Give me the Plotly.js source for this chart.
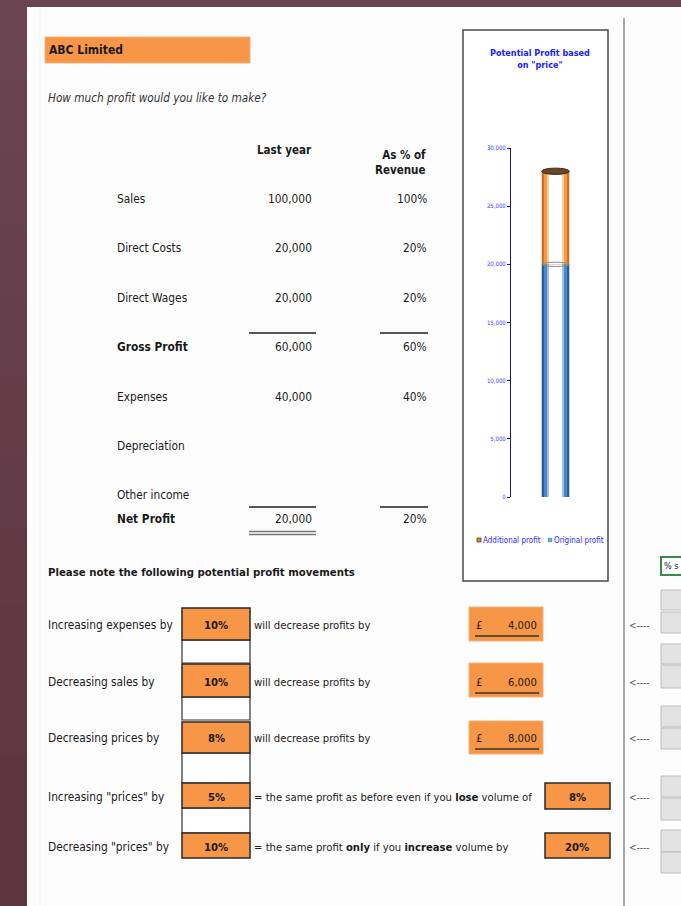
<!DOCTYPE html>
<html>
<head>
<meta charset="utf-8">
<script src="https://cdn.plot.ly/plotly-3.0.1.min.js"></script>
<style>html,body{margin:0;padding:0;background:#633d49;}#chart{width:681px;height:906px;}</style>
</head>
<body>
<div id="chart"></div>
<script>
// ---------------- DATA ----------------
const companyName = 'ABC Limited';
const question = 'How much profit would you like to make?';
const tableHeaders = ['Last year', 'As % of<br>Revenue'];
const tableLabels = ['Sales', 'Direct Costs', 'Direct Wages', 'Gross Profit', 'Expenses', 'Depreciation', 'Other income', 'Net Profit'];
const lastYear = [100000, 20000, 20000, 60000, 40000, null, null, 20000];
const pctRevenue = [1.00, 0.20, 0.20, 0.60, 0.40, null, null, 0.20];
const totalRows = ['Gross Profit', 'Net Profit'];

const movementsTitle = 'Please note the following potential profit movements';
const moveLabels = ['Increasing expenses by', 'Decreasing sales by', 'Decreasing prices by', 'Increasing "prices" by', 'Decreasing "prices" by'];
const movePct = [0.10, 0.10, 0.08, 0.05, 0.10];
const moveText = ['will decrease profits by', 'will decrease profits by', 'will decrease profits by',
  '= the same profit as before even if you <b>lose</b> volume of',
  '= the same profit <b>only</b> if you <b>increase</b> volume by'];
const profitDecrease = [4000, 6000, 8000];
const volumeChange = [0.08, 0.20];

const chartTitle = 'Potential Profit based<br>on "price"';
const chartSeries = ['Additional profit', 'Original profit'];
const chartValues = [8000, 20000];
const yTicks = [0, 5000, 10000, 15000, 20000, 25000, 30000];

// ---------------- LAYOUT HELPERS ----------------
const W = 681, H = 906;
const X = v => v / W, Y = v => 1 - v / H;
const FONT = '"DejaVu Sans Condensed", "Liberation Sans Narrow", "Arial Narrow", sans-serif';
const ORANGE = '#f79646';
const TS = 11.8;   // table text size
const MS = 11.2;   // movements text size
const shapes = [];
const annotations = [];

function rect(x0, y0, x1, y1, fill, line, lw, layer) {
  shapes.push({type: 'rect', xref: 'paper', yref: 'paper', x0: X(x0), x1: X(x1), y0: Y(y1), y1: Y(y0),
    fillcolor: fill, line: {color: line || 'rgba(0,0,0,0)', width: lw === undefined ? (line ? 1 : 0) : lw}, layer: layer || 'below'});
}
function hline(x0, x1, y, color, w) {
  shapes.push({type: 'line', xref: 'paper', yref: 'paper', x0: X(x0), x1: X(x1), y0: Y(y), y1: Y(y),
    line: {color: color, width: w}, layer: 'above'});
}
function vline(x, y0, y1, color, w) {
  shapes.push({type: 'line', xref: 'paper', yref: 'paper', x0: X(x), x1: X(x), y0: Y(y0), y1: Y(y1),
    line: {color: color, width: w}, layer: 'above'});
}
function txt(x, y, text, o) {
  o = o || {};
  annotations.push({xref: 'paper', yref: 'paper', x: X(x), y: Y(y), text: text, showarrow: false,
    xanchor: o.anchor || 'left', yanchor: 'middle', align: o.align || (o.anchor || 'left'),
    font: {family: o.family || FONT, size: o.size || TS, color: o.color || '#1a1a1a'}, borderpad: 0});
}
const fmt = v => v.toLocaleString('en-US');
const pct = v => Math.round(v * 100) + '%';

// ---------------- PAGE BACKGROUND ----------------
const bandTop = [106, 68, 81], bandBot = [92, 53, 64];
for (let i = 0; i < 12; i++) {
  const t = i / 11;
  const c = bandTop.map((a, k) => Math.round(a + (bandBot[k] - a) * t));
  rect(0, i * H / 12, W, (i + 1) * H / 12 + 1, 'rgb(' + c.join(',') + ')', null, 0);
}
rect(27, 7, W + 2, H + 2, '#fdfdfd', null, 0);
vline(40, 7, H, '#f1f1f1', 1);

// ---------------- HEADER ----------------
rect(45, 37, 250, 63, ORANGE, '#f3b07a', 1);
txt(48, 50, '<b>' + companyName + '</b>', {size: 12});
txt(47, 98, '<i>' + question + '</i>', {size: 11.7, color: '#333'});

// ---------------- P&L TABLE ----------------
const rowY = [199, 248, 298, 347, 397, 446, 495, 519];
txt(313, 150, '<b>' + tableHeaders[0] + '</b>', {anchor: 'right', size: 11.5});
txt(427, 162, '<b>' + tableHeaders[1] + '</b>', {anchor: 'right', size: 11.5});
tableLabels.forEach((lab, i) => {
  const b = totalRows.includes(lab);
  txt(116, rowY[i], b ? '<b>' + lab + '</b>' : lab);
  if (lastYear[i] !== null) txt(313, rowY[i], fmt(lastYear[i]), {anchor: 'right'});
  if (pctRevenue[i] !== null) txt(428, rowY[i], pct(pctRevenue[i]), {anchor: 'right'});
});
hline(249, 316, 333, '#555', 2);
hline(380, 428, 333, '#555', 2);
hline(249, 316, 507, '#555', 2);
hline(380, 428, 507, '#555', 2);
hline(249, 316, 531.5, '#777', 1.5);
hline(249, 316, 534.5, '#777', 1.5);

// ---------------- MOVEMENTS ----------------
txt(47, 572, '<b>' + movementsTitle + '</b>', {size: 11.3});
const moveY = [625, 682, 738, 797, 847];
const inBox = [[608, 640], [664, 697], [722, 753], [783, 808], [833, 858]];
const whiteBox = [[640, 663], [697, 720], [753, 783], [808, 833]];
whiteBox.forEach(b => rect(182, b[0], 250, b[1], '#ffffff', '#333', 1.2));
inBox.forEach(b => rect(182, b[0], 250, b[1], ORANGE, '#2a2a2a', 1.5));
moveLabels.forEach((lab, i) => {
  txt(47, moveY[i], lab, {size: 11.8});
  txt(216, moveY[i], '<b>' + pct(movePct[i]) + '</b>', {anchor: 'center', size: MS});
  txt(253, moveY[i], moveText[i], {size: MS});
});
const resBox = [[607, 641], [663, 697], [721, 754]];
profitDecrease.forEach((v, i) => {
  const b = resBox[i];
  rect(469, b[0], 543, b[1], ORANGE, '#f7b27a', 1);
  txt(475, moveY[i], '£', {size: MS});
  txt(538, moveY[i], fmt(v), {anchor: 'right', size: MS});
  hline(475, 539, moveY[i] + 11, '#333', 1.3);
});
const volBox = [[783, 809], [833, 858]];
volumeChange.forEach((v, i) => {
  const b = volBox[i];
  rect(545, b[0], 610, b[1], ORANGE, '#2a2a2a', 1.5);
  txt(577, moveY[3 + i], '<b>' + pct(v) + '</b>', {anchor: 'center', size: MS});
});

// ---------------- RIGHT SIDE ----------------
vline(624, 18, H, '#8a8a8a', 1.5);
moveY.forEach(y => txt(628, y, '&lt;----', {size: 10, color: '#555'}));
rect(661, 557, 692, 575, '#ffffff', '#3a8a4a', 2);
txt(663, 566, '% s', {size: 9, color: '#222'});
[[590, 610], [612, 633], [644, 664], [665, 688], [706, 727], [728, 749], [776, 797], [798, 820], [830, 852], [852, 873]]
  .forEach(b => rect(661, b[0], 692, b[1], '#e3e3e3', '#bdbdbd', 1));

// ---------------- CHART BOX ----------------
rect(463, 30, 608, 581, '#ffffff', '#4a4a4a', 1.5);
txt(540, 59, '<b>' + chartTitle + '</b>', {anchor: 'center', align: 'center', size: 9, color: '#2020ff'});

const original = chartValues[1], additional = chartValues[0];
const bluePal = [['#2c5a94', 0.31], ['#4f87c6', 0.26], ['#9cc3ea', 0.19], ['#ffffff', 0.145]];
const orangePal = [['#c9711f', 0.31], ['#f29a45', 0.26], ['#fbcf9f', 0.19], ['#ffffff', 0.145]];
const traces = [];
function cylinder(value, base, pal, name) {
  pal.forEach((p, k) => traces.push({type: 'bar', x: [0], y: [value], base: [base], width: p[1],
    marker: {color: p[0], line: {width: 0}}, name: name, showlegend: false, hoverinfo: k === 0 ? 'y+name' : 'skip'}));
}
cylinder(original, 0, bluePal, chartSeries[1]);
cylinder(additional, original, orangePal, chartSeries[0]);
const total = original + additional;
shapes.push({type: 'circle', xref: 'x', yref: 'y', x0: -0.155, x1: 0.155, y0: original - 180, y1: original + 180,
  fillcolor: 'rgba(0,0,0,0)', line: {color: '#8c8c8c', width: 1}, layer: 'above'});
shapes.push({type: 'circle', xref: 'x', yref: 'y', x0: -0.155, x1: 0.155, y0: total - 270, y1: total + 270,
  fillcolor: '#6a4522', line: {color: '#3a2815', width: 1}, layer: 'above'});

// legend
rect(477, 538, 481, 542, '#e08a30', '#5a3a1a', 0.8, 'above');
txt(482, 540, chartSeries[0], {size: 8, color: '#2a2aff'});
rect(548, 538, 552, 542, '#6fa0d6', '#6fa0d6', 0.5, 'above');
txt(553, 540, chartSeries[1], {size: 8, color: '#2a2aff'});

const layout = {
  width: W, height: H, margin: {l: 0, r: 0, t: 0, b: 0},
  paper_bgcolor: '#633d49', plot_bgcolor: 'rgba(0,0,0,0)',
  barmode: 'overlay', showlegend: false,
  xaxis: {domain: [X(511), X(600)], range: [-0.5, 0.5], visible: false, fixedrange: true},
  yaxis: {domain: [Y(497), Y(148)], range: [0, 30000], tickvals: yTicks, ticktext: yTicks.map(fmt),
    showgrid: false, zeroline: false, showline: true, linecolor: '#1a1a80', linewidth: 1,
    ticks: 'outside', ticklen: 3, tickcolor: '#1a1a80', tickfont: {family: FONT, size: 6, color: '#3b3bff'}, fixedrange: true},
  shapes: shapes, annotations: annotations
};
Plotly.newPlot('chart', traces, layout, {displayModeBar: false, staticPlot: true});
</script>
</body>
</html>
